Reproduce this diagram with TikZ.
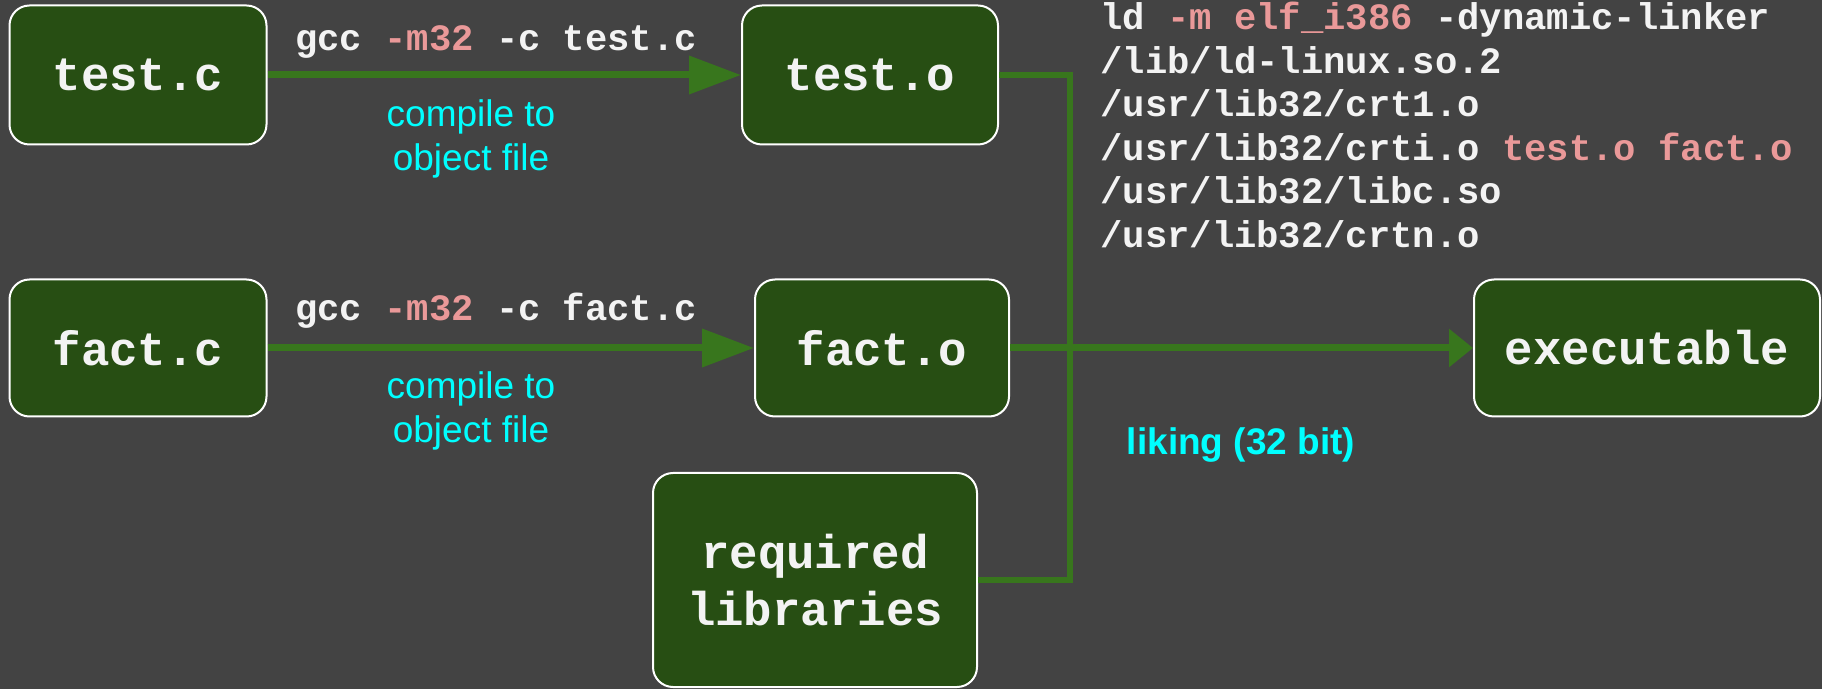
\documentclass[tikz,border=0pt]{standalone}
\usepackage{fontspec}
\setmainfont{Liberation Sans}
\newfontfamily\codefont{Liberation Mono}
\usetikzlibrary{arrows.meta}
\definecolor{bg}{HTML}{434343}
\definecolor{boxgreen}{HTML}{274E13}
\definecolor{arrowgreen}{HTML}{38761D}
\definecolor{lightred}{HTML}{EA9999}
\definecolor{codewhite}{HTML}{F3F3F3}
\definecolor{notecyan}{HTML}{00FFFF}
\tikzstyle{stage} = [draw=white, line width=1pt, fill=boxgreen, rounded corners=10pt, text=codewhite, align=center, font=\codefont\bfseries\fontsize{23.7}{28.5}\selectfont]
\tikzstyle{flow} = [draw=arrowgreen, line width=3.5pt, -{Triangle[length=26pt,width=18.5pt]}]
\tikzstyle{link} = [draw=arrowgreen, line width=3pt]
\tikzstyle{cmd} = [text=codewhite, inner sep=0pt, font=\codefont\bfseries\fontsize{18.6}{21.75}\selectfont]
\tikzstyle{note} = [text=notecyan, align=center, font=\fontsize{18.5}{22}\selectfont]
\newcommand{\pk}[1]{\textcolor{lightred}{#1}}

\begin{document}
\begin{tikzpicture}[x=0.5pt, y=-0.5pt]%
			\useasboundingbox (0,0) rectangle (1822,689);%
			\fill[bg] (0,0) rectangle (1822,689);%
			\node [stage, minimum width=128.5pt, minimum height=69.5pt] (testc) at (138,75) {test.c};%
			\node [stage, minimum width=128pt, minimum height=69.5pt] (testo) at (870,75) {test.o};%
			\node [stage, minimum width=128.5pt, minimum height=68.5pt] (factc) at (138,348) {fact.c};%
			\node [stage, minimum width=127pt, minimum height=68.5pt] (facto) at (882,348) {fact.o};%
			\node [stage, minimum width=173pt, minimum height=68.5pt] (exec) at (1647,348) {executable};%
			\node [stage, minimum width=162pt, minimum height=107pt] (libs) at (815,580) {required\\libraries};%
			\coordinate (joint) at (1070,348);%
			\draw [flow] (testc) -- (testo);%
			\draw [flow] (factc) -- (facto);%
			\draw [link] (testo.east) -| (joint) |- (libs.east);%
			\draw [flow, -{Triangle[length=12pt,width=18.5pt]}] (facto) -- (exec);%
			\node [cmd] (gcctest) at (496,42) {gcc \pk{-m32} -c test.c};%
			\node [cmd] (gccfact) at (496,311) {gcc \pk{-m32} -c fact.c};%
			\node [note] (comptest) at (471,139) {compile to\\object file};%
			\node [note] (compfact) at (471,411) {compile to\\object file};%
			\node [note, font=\bfseries\fontsize{18.5}{22}\selectfont] (linking) at (1241,445) {liking (32 bit)};%
			\node [cmd, align=left, anchor=north west] (ldcmd) at (1100,2) {ld \pk{-m elf\_i386} -dynamic-linker\\%
				/lib/ld-linux.so.2\\%
				/usr/lib32/crt1.o\\%
				/usr/lib32/crti.o \pk{test.o fact.o}\\%
				/usr/lib32/libc.so\\%
				/usr/lib32/crtn.o};%
		\end{tikzpicture}
\end{document}
